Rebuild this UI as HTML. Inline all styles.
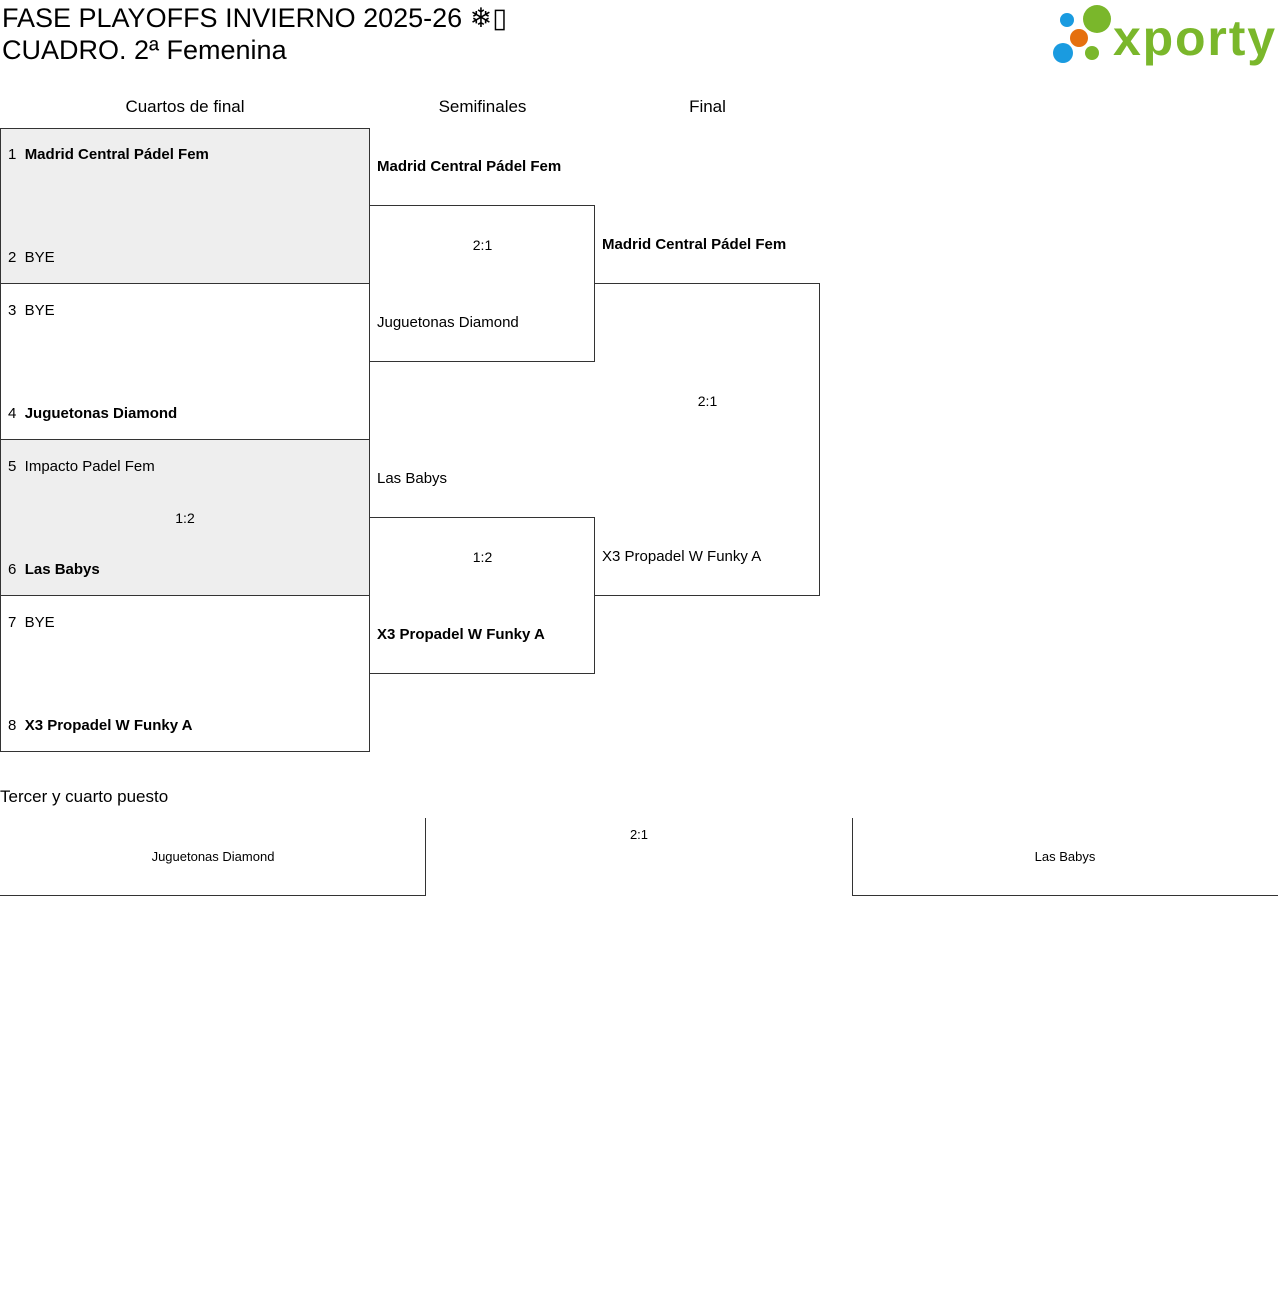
<!DOCTYPE html>
<html><head><meta charset="utf-8"><style>
body{margin:0;width:1280px;height:1315px;background:#fff;font-family:"Liberation Sans","DejaVu Sans",sans-serif;color:#000;position:relative;overflow:hidden}
.a{position:absolute;white-space:nowrap}
.b{position:absolute;border:1px solid #333;box-sizing:border-box}
.t{font-size:15px}
.bold{font-weight:bold}
</style></head><body>
<div class="a" style="left:2px;top:2px;font-size:27px;line-height:32px">FASE PLAYOFFS INVIERNO 2025-26 ❄▯<br>CUADRO. 2ª Femenina</div>
<svg class="a" style="left:1050px;top:3px" width="230" height="64">
<circle cx="17" cy="17" r="7" fill="#1a9be0"/><circle cx="47" cy="16" r="14" fill="#7ab72b"/>
<circle cx="29" cy="35" r="9" fill="#e5700f"/><circle cx="13" cy="50" r="10" fill="#1a9be0"/><circle cx="42" cy="50" r="7" fill="#7ab72b"/>
<text x="63" y="52" font-family="Liberation Sans,sans-serif" font-weight="bold" font-size="50" fill="#7ab72b" textLength="162">xporty</text></svg>
<div class="a" style="left:0;width:370px;text-align:center;top:97px;font-size:17px">Cuartos de final</div>
<div class="a" style="left:370px;width:225px;text-align:center;top:97px;font-size:17px">Semifinales</div>
<div class="a" style="left:595px;width:225px;text-align:center;top:97px;font-size:17px">Final</div>

<div class="b" style="left:0;top:128px;width:370px;height:156px;background:#eee"></div>
<div class="b" style="left:0;top:283px;width:370px;height:157px"></div>
<div class="b" style="left:0;top:439px;width:370px;height:157px;background:#eee"></div>
<div class="b" style="left:0;top:595px;width:370px;height:157px"></div>
<div class="a t" style="left:8px;top:146px">1&nbsp; <b>Madrid Central Pádel Fem</b></div>
<div class="a t" style="left:8px;top:249px">2&nbsp; BYE</div>
<div class="a t" style="left:8px;top:302px">3&nbsp; BYE</div>
<div class="a t" style="left:8px;top:405px">4&nbsp; <b>Juguetonas Diamond</b></div>
<div class="a t" style="left:8px;top:458px">5&nbsp; Impacto Padel Fem</div>
<div class="a" style="left:0;width:370px;text-align:center;top:510px;font-size:14px">1:2</div>
<div class="a t" style="left:8px;top:561px">6&nbsp; <b>Las Babys</b></div>
<div class="a t" style="left:8px;top:614px">7&nbsp; BYE</div>
<div class="a t" style="left:8px;top:717px">8&nbsp; <b>X3 Propadel W Funky A</b></div>

<div class="b" style="left:369px;top:205px;width:226px;height:157px;border-left:none"></div>
<div class="b" style="left:369px;top:517px;width:226px;height:157px;border-left:none"></div>
<div class="a t bold" style="left:377px;top:158px">Madrid Central Pádel Fem</div>
<div class="a" style="left:370px;width:225px;text-align:center;top:237px;font-size:14px">2:1</div>
<div class="a t" style="left:377px;top:314px">Juguetonas Diamond</div>
<div class="a t" style="left:377px;top:470px">Las Babys</div>
<div class="a" style="left:370px;width:225px;text-align:center;top:549px;font-size:14px">1:2</div>
<div class="a t bold" style="left:377px;top:626px">X3 Propadel W Funky A</div>

<div class="b" style="left:594px;top:283px;width:226px;height:313px;border-left:none"></div>
<div class="a t bold" style="left:602px;top:236px">Madrid Central Pádel Fem</div>
<div class="a" style="left:595px;width:225px;text-align:center;top:393px;font-size:14px">2:1</div>
<div class="a t" style="left:602px;top:548px">X3 Propadel W Funky A</div>

<div class="a" style="left:0;top:787px;font-size:17px">Tercer y cuarto puesto</div>
<div class="b" style="left:0;top:818px;width:426px;height:78px;border-top:none;border-left:none"></div>
<div class="b" style="left:852px;top:818px;width:426px;height:78px;border-top:none;border-right:none"></div>
<div class="a" style="left:0;width:426px;text-align:center;top:849px;font-size:13px">Juguetonas Diamond</div>
<div class="a" style="left:426px;width:426px;text-align:center;top:827px;font-size:13px">2:1</div>
<div class="a" style="left:852px;width:426px;text-align:center;top:849px;font-size:13px">Las Babys</div>
</body></html>
